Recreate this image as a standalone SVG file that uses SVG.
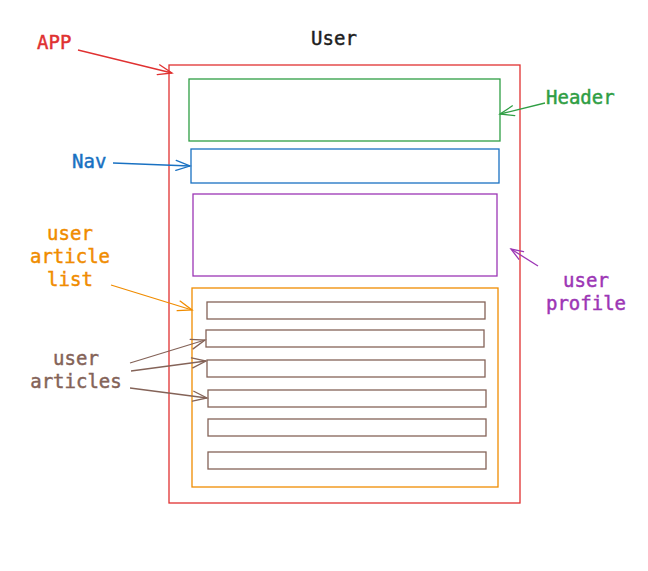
<svg xmlns="http://www.w3.org/2000/svg" width="648" height="571" viewBox="0 0 648 571">
<style>
text{font-family:"DejaVu Sans Mono","Liberation Mono",monospace;font-size:19px;stroke-width:0.45}
rect{fill:none;stroke-width:1.3}
.red{stroke:#e03131}.green{stroke:#2f9e44}.blue{stroke:#1971c2}.purple{stroke:#9c36b5}.orange{stroke:#f08c00}.brown{stroke:#846358}
.conn path{fill:none;stroke-width:1.3}
.mk{fill:none;stroke-width:1.3;stroke-linecap:round}
</style>
<defs>
<marker id="aRed" markerUnits="userSpaceOnUse" markerWidth="30" markerHeight="30" refX="0" refY="0" orient="auto" overflow="visible"><path class="mk" stroke="#e03131" d="M-14,-5 L0,0 L-14,5"/></marker>
<marker id="aGreen" markerUnits="userSpaceOnUse" markerWidth="30" markerHeight="30" refX="0" refY="0" orient="auto" overflow="visible"><path class="mk" stroke="#2f9e44" d="M-14,-5 L0,0 L-14,5"/></marker>
<marker id="aBlue" markerUnits="userSpaceOnUse" markerWidth="30" markerHeight="30" refX="0" refY="0" orient="auto" overflow="visible"><path class="mk" stroke="#1971c2" d="M-14,-5 L0,0 L-14,5"/></marker>
<marker id="aPurple" markerUnits="userSpaceOnUse" markerWidth="30" markerHeight="30" refX="0" refY="0" orient="auto" overflow="visible"><path class="mk" stroke="#9c36b5" d="M-12,-4.5 L0,0 L-12,4.5"/></marker>
<marker id="aOrange" markerUnits="userSpaceOnUse" markerWidth="30" markerHeight="30" refX="0" refY="0" orient="auto" overflow="visible"><path class="mk" stroke="#f08c00" d="M-14,-5 L0,0 L-14,5"/></marker>
<marker id="aBrown" markerUnits="userSpaceOnUse" markerWidth="30" markerHeight="30" refX="0" refY="0" orient="auto" overflow="visible"><path class="mk" stroke="#846358" d="M-14,-5 L0,0 L-14,5"/></marker>
</defs>
<rect width="648" height="571" fill="#ffffff" stroke="none"/>
<text x="334" y="45" text-anchor="middle" fill="#1e1e1e" stroke="#1e1e1e">User</text>
<g id="app"><rect class="red" x="169" y="65" width="351" height="438"/></g>
<g id="header"><rect class="green" x="189" y="79" width="311" height="62"/></g>
<g id="nav"><rect class="blue" x="191" y="149" width="308" height="34"/></g>
<g id="user-profile"><rect class="purple" x="193" y="194" width="304" height="82"/></g>
<g id="user-article-list"><rect class="orange" x="192" y="288" width="306" height="199"/></g>
<g id="article-1"><rect class="brown" x="207" y="302" width="278" height="17"/></g>
<g id="article-2"><rect class="brown" x="206" y="330" width="278" height="17"/></g>
<g id="article-3"><rect class="brown" x="207" y="360" width="278" height="17"/></g>
<g id="article-4"><rect class="brown" x="208" y="390" width="278" height="17"/></g>
<g id="article-5"><rect class="brown" x="208" y="419" width="278" height="17"/></g>
<g id="article-6"><rect class="brown" x="208" y="452" width="278" height="17"/></g>
<g id="label-app"><text x="37" y="49" fill="#e03131" stroke="#e03131">APP</text></g>
<g id="label-header"><text x="546" y="104" fill="#2f9e44" stroke="#2f9e44">Header</text></g>
<g id="label-nav"><text x="72" y="168" fill="#1971c2" stroke="#1971c2">Nav</text></g>
<g id="label-article-list" fill="#f08c00" stroke="#f08c00"><text x="70" y="240" text-anchor="middle">user</text><text x="70" y="263" text-anchor="middle">article</text><text x="70" y="286" text-anchor="middle">list</text></g>
<g id="label-articles" fill="#846358" stroke="#846358"><text x="76" y="365" text-anchor="middle">user</text><text x="76" y="388" text-anchor="middle">articles</text></g>
<g id="label-profile" fill="#9c36b5" stroke="#9c36b5"><text x="586" y="287" text-anchor="middle">user</text><text x="586" y="310" text-anchor="middle">profile</text></g>
<g class="conn" id="connectors">
<path class="red" d="M78,50 L172,73" marker-end="url(#aRed)"/>
<path class="green" d="M545,103 L500,114" marker-end="url(#aGreen)"/>
<path class="blue" d="M113,163 L190,166" marker-end="url(#aBlue)"/>
<path class="purple" d="M538,266 L511,249" marker-end="url(#aPurple)"/>
<path class="orange" d="M111,285 L192,310" marker-end="url(#aOrange)"/>
<path class="brown" d="M130,363 L205,340" marker-end="url(#aBrown)"/>
<path class="brown" d="M131,371 L206,361" marker-end="url(#aBrown)"/>
<path class="brown" d="M130,388 L207,398" marker-end="url(#aBrown)"/>
</g>
</svg>
